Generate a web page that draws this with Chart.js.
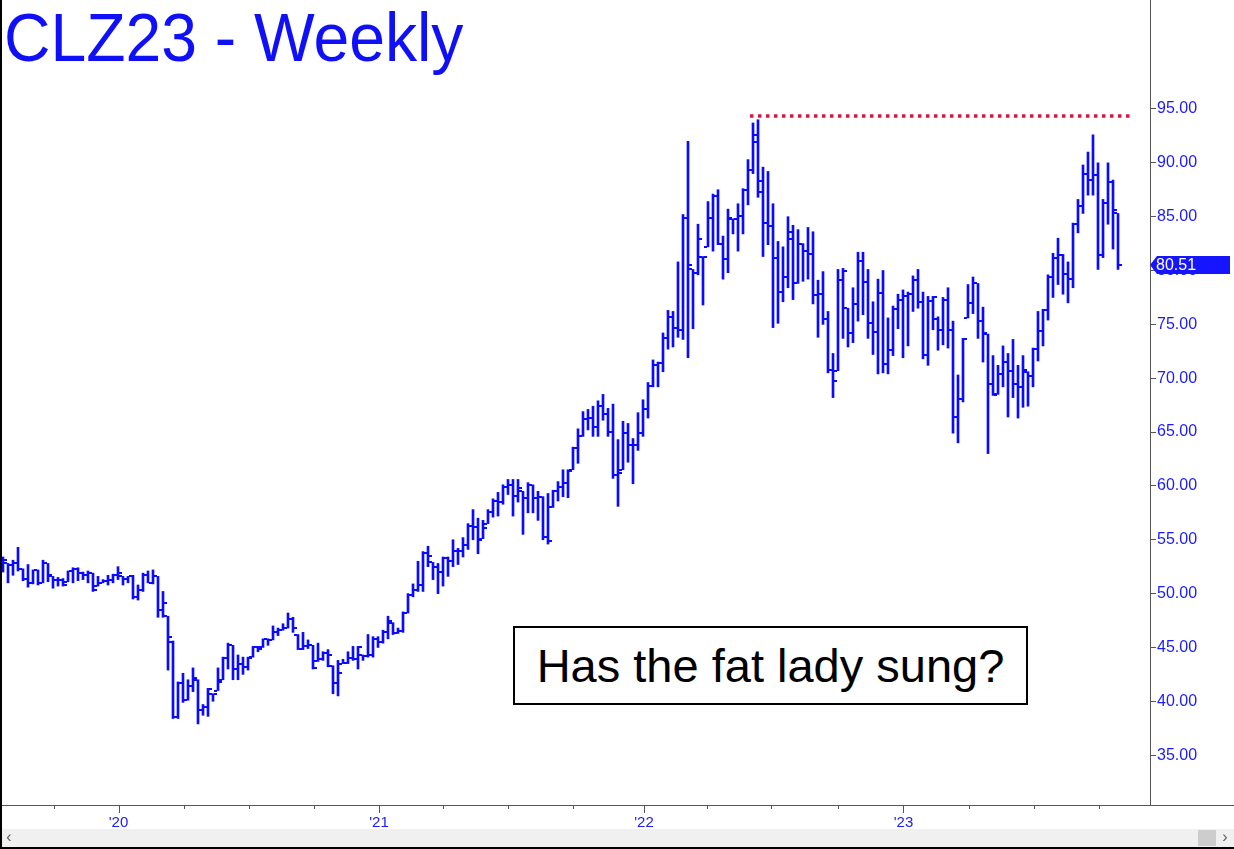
<!DOCTYPE html>
<html>
<head>
<meta charset="utf-8">
<title>CLZ23 - Weekly</title>
<script src="https://cdn.jsdelivr.net/npm/chart.js@4.4.0/dist/chart.umd.min.js"></script>
<style>
  html, body { margin: 0; padding: 0; background: #fff; }
  #wrap { position: relative; width: 1234px; height: 849px; overflow: hidden; }
  #chart { position: absolute; left: 0; top: 0; }
  #title {
    position: absolute; left: 4px; top: 3px;
    font-family: 'Liberation Sans', Arial, sans-serif; font-size: 68px; line-height: 68px;
    color: #1010f8; white-space: nowrap;
    transform: scaleX(0.945); transform-origin: 0 0;
  }
  #note {
    position: absolute; left: 513px; top: 626px; width: 511px; height: 75px;
    border: 2px solid #000; background: #fff;
    font-family: 'Liberation Sans', Arial, sans-serif; font-size: 47px; line-height: 75px;
    text-align: center; color: #000; white-space: nowrap;
  }
</style>
</head>
<body>
<div id="wrap">
  <canvas id="chart" width="1234" height="849"></canvas>
  <div id="title">CLZ23 - Weekly</div>
  <div id="note">Has the fat lady sung?</div>
</div>
<script>
// weekly bars, mid-2019 .. Oct 2023 (index = week number)
var opens = [
  52.5, 52.8, 52.7, 52.8, 52.3, 51.4, 51.0, 52.2, 51.0, 52.8,
  51.6, 51.3, 51.3, 51.1, 52.1, 52.3, 51.9, 51.7, 51.9, 50.7,
  51.0, 51.2, 51.3, 51.7, 51.6, 51.4, 51.6, 49.7, 50.3, 51.7,
  51.0, 51.6, 48.5, 47.9, 45.5, 38.5, 41.7, 40.1, 41.4, 42.0,
  39.2, 39.5, 40.7, 41.0, 42.0, 44.0, 45.2, 43.0, 43.5, 43.2,
  44.1, 45.0, 45.0, 45.8, 45.7, 46.4, 46.6, 46.8, 47.6, 46.2,
  44.9, 45.1, 45.2, 43.7, 43.9, 44.5, 43.3, 41.7, 43.5, 43.6,
  44.0, 43.9, 44.3, 44.2, 44.3, 45.8, 45.5, 46.4, 47.3, 46.3,
  46.5, 48.2, 49.9, 50.3, 50.8, 53.8, 52.9, 52.5, 52.0, 53.3,
  53.0, 54.0, 54.0, 54.5, 56.3, 56.2, 55.1, 56.5, 57.6, 58.6,
  58.5, 59.9, 60.1, 59.1, 59.5, 58.9, 60.1, 58.9, 59.0, 55.3,
  58.0, 59.5, 59.9, 60.3, 61.5, 63.5, 64.6, 66.2, 66.3, 65.5,
  67.4, 66.7, 65.0, 61.0, 61.5, 64.9, 63.8, 63.8, 64.9, 67.1,
  69.3, 71.2, 71.4, 73.7, 75.7, 74.7, 74.5, 84.9, 80.1, 79.8,
  81.3, 82.2, 84.9, 86.9, 82.5, 81.1, 84.8, 84.8, 85.1, 87.5,
  89.3, 91.9, 88.3, 84.4, 84.1, 81.2, 78.0, 79.4, 82.9, 78.8,
  82.5, 81.8, 81.5, 77.7, 77.8, 75.5, 70.8, 70.7, 79.1, 76.5,
  74.2, 76.9, 80.9, 78.9, 75.1, 74.3, 77.9, 71.3, 72.6, 76.4,
  77.3, 77.6, 77.8, 79.1, 77.1, 72.2, 77.2, 75.5, 74.5, 77.3,
  74.5, 66.4, 68.1, 75.6, 77.0, 78.8, 75.3, 74.1, 69.5, 68.5,
  70.4, 71.5, 70.7, 69.5, 69.2, 70.6, 70.2, 72.7, 74.4, 76.3,
  79.4, 81.2, 81.4, 79.7, 79.2, 84.3, 86.0, 89.0, 88.4, 88.9,
  81.4, 86.3, 88.2, 85.3
];
var highs = [
  53.4, 52.8, 53.1, 54.3, 52.3, 52.7, 52.2, 52.2, 53.1, 52.8,
  51.6, 51.5, 51.4, 52.1, 52.4, 52.4, 52.0, 52.1, 51.9, 51.6,
  51.3, 51.7, 51.8, 52.5, 51.6, 51.6, 51.7, 50.8, 51.9, 52.1,
  52.2, 51.6, 50.2, 47.9, 45.6, 41.8, 42.6, 42.0, 43.1, 42.0,
  39.7, 41.2, 40.7, 43.1, 44.1, 45.4, 45.2, 44.3, 44.1, 44.1,
  45.1, 45.1, 45.8, 45.8, 47.0, 46.8, 47.2, 48.2, 47.8, 46.2,
  46.4, 45.7, 45.2, 45.4, 44.6, 44.8, 43.3, 43.8, 43.9, 44.6,
  45.1, 45.1, 44.3, 46.2, 46.0, 46.0, 46.6, 47.9, 47.3, 46.8,
  48.3, 50.0, 50.9, 53.0, 53.9, 54.4, 52.9, 52.8, 53.4, 53.4,
  55.0, 54.2, 55.2, 56.5, 57.8, 57.0, 56.8, 57.8, 58.8, 59.4,
  60.1, 60.6, 60.6, 60.6, 59.5, 60.3, 60.1, 59.5, 59.0, 59.3,
  59.6, 60.4, 61.5, 61.5, 63.6, 65.3, 66.9, 67.1, 67.4, 67.9,
  68.5, 67.2, 67.6, 64.3, 66.0, 65.8, 64.4, 66.8, 68.0, 69.6,
  71.7, 71.5, 74.2, 76.3, 76.2, 80.8, 85.2, 92.0, 80.1, 84.3,
  81.3, 86.4, 87.1, 87.5, 83.2, 85.7, 84.8, 86.2, 87.6, 90.3,
  93.7, 94.0, 89.6, 89.2, 86.2, 82.7, 82.2, 85.0, 84.2, 83.8,
  82.5, 84.0, 83.6, 79.1, 79.9, 76.2, 72.3, 80.1, 80.2, 76.5,
  78.4, 81.7, 81.7, 80.1, 77.1, 79.2, 80.0, 75.6, 76.7, 77.8,
  78.2, 78.0, 79.5, 80.1, 78.0, 77.6, 77.6, 75.7, 77.5, 78.4,
  75.3, 70.3, 73.7, 78.7, 79.4, 78.8, 76.6, 74.1, 72.1, 71.2,
  73.0, 72.3, 73.6, 71.2, 72.1, 70.6, 72.8, 76.2, 76.4, 79.6,
  81.6, 83.0, 81.5, 80.8, 84.4, 86.6, 89.8, 91.0, 92.6, 90.0,
  86.6, 90.0, 88.4, 85.3
];
var lows = [
  52.0, 51.0, 51.7, 52.1, 51.2, 50.6, 50.9, 50.8, 51.0, 51.1,
  50.5, 50.7, 50.7, 51.1, 51.0, 51.2, 51.3, 51.0, 50.2, 50.7,
  51.0, 50.8, 51.0, 51.3, 50.8, 51.0, 49.5, 49.4, 50.2, 51.0,
  50.9, 47.8, 47.8, 42.9, 38.4, 38.4, 39.9, 40.1, 40.9, 37.9,
  38.7, 38.6, 40.0, 41.0, 42.0, 43.0, 42.0, 42.0, 42.5, 42.9,
  44.1, 44.6, 45.0, 45.2, 45.7, 46.1, 46.6, 46.8, 46.4, 44.8,
  44.8, 44.9, 43.0, 43.7, 43.8, 43.2, 40.7, 40.5, 43.5, 43.5,
  43.8, 43.0, 43.8, 44.1, 44.1, 45.0, 45.4, 45.8, 46.2, 46.3,
  46.4, 48.2, 49.7, 50.2, 50.2, 52.5, 51.3, 50.0, 50.7, 51.6,
  52.5, 52.7, 53.4, 54.1, 55.0, 53.7, 55.1, 56.5, 57.1, 57.2,
  58.3, 59.2, 57.2, 58.5, 55.5, 57.5, 57.5, 56.8, 55.0, 54.6,
  58.0, 58.6, 59.0, 58.9, 61.5, 62.1, 64.6, 65.2, 64.6, 64.6,
  66.1, 64.6, 60.7, 58.1, 61.5, 62.2, 60.2, 63.3, 64.6, 66.3,
  69.2, 69.2, 70.6, 72.7, 72.9, 73.8, 73.6, 71.9, 74.6, 79.6,
  76.8, 82.2, 81.8, 82.4, 79.2, 79.8, 83.4, 81.8, 83.4, 86.1,
  89.0, 86.8, 81.3, 82.4, 74.7, 75.1, 77.1, 78.4, 77.3, 78.8,
  79.0, 79.2, 76.9, 73.8, 75.0, 70.5, 68.2, 70.7, 73.7, 72.9,
  73.3, 75.3, 75.9, 73.7, 72.2, 70.4, 70.5, 70.4, 72.1, 74.6,
  71.9, 73.0, 76.2, 76.5, 71.8, 71.2, 74.5, 72.6, 73.1, 72.8,
  64.9, 64.0, 67.8, 75.6, 76.0, 73.7, 71.5, 63.0, 68.4, 68.5,
  69.2, 66.4, 68.2, 66.3, 67.3, 67.4, 69.2, 71.6, 73.0, 75.4,
  77.5, 78.7, 77.8, 77.0, 78.4, 83.5, 85.3, 87.0, 87.0, 80.1,
  81.2, 84.3, 82.0, 80.1
];
var closes = [
  53.1, 52.7, 52.8, 52.3, 51.4, 51.0, 52.2, 51.0, 52.8, 51.7,
  51.3, 51.3, 50.8, 52.1, 52.3, 51.9, 51.7, 51.9, 50.3, 51.0,
  51.2, 51.3, 51.7, 51.9, 51.4, 51.6, 49.7, 50.3, 51.7, 51.0,
  51.6, 48.5, 49.1, 46.0, 38.5, 41.7, 40.1, 41.4, 42.2, 39.2,
  39.5, 41.1, 40.7, 41.8, 44.0, 45.2, 43.0, 43.5, 43.2, 44.0,
  45.0, 44.9, 45.8, 45.7, 46.4, 46.6, 46.8, 47.6, 46.8, 44.9,
  45.1, 45.2, 43.1, 43.9, 44.5, 44.3, 41.7, 42.6, 43.6, 44.0,
  43.9, 45.0, 44.2, 44.3, 45.8, 45.5, 46.4, 47.5, 46.3, 46.5,
  48.2, 49.9, 50.3, 50.8, 53.8, 53.5, 52.5, 52.0, 53.3, 53.0,
  54.0, 54.0, 54.5, 56.3, 56.2, 55.0, 56.1, 57.6, 58.6, 58.5,
  59.9, 60.1, 59.1, 59.8, 58.9, 60.1, 58.9, 59.0, 55.3, 54.9,
  59.5, 59.9, 60.3, 61.4, 63.5, 64.6, 66.2, 66.3, 65.5, 67.4,
  66.7, 65.0, 61.0, 61.2, 64.9, 63.8, 63.8, 64.9, 67.1, 69.3,
  71.2, 71.4, 73.7, 75.7, 74.7, 74.5, 84.9, 80.5, 79.8, 82.9,
  81.3, 84.9, 86.9, 82.5, 81.1, 84.9, 84.8, 85.1, 87.5, 89.3,
  92.6, 87.3, 84.4, 84.1, 81.2, 78.0, 79.4, 83.6, 78.8, 82.5,
  81.8, 81.5, 77.7, 77.8, 75.5, 70.8, 69.7, 79.1, 80.0, 74.2,
  76.9, 80.9, 78.9, 75.1, 74.3, 77.9, 71.3, 72.6, 76.4, 77.3,
  77.6, 77.8, 79.1, 77.1, 72.2, 77.2, 77.5, 74.5, 77.3, 74.5,
  66.4, 68.1, 73.6, 77.0, 78.8, 75.3, 74.2, 69.5, 68.4, 70.4,
  71.5, 70.7, 69.5, 69.2, 70.8, 70.2, 72.7, 74.4, 76.3, 79.4,
  81.2, 81.4, 79.7, 79.2, 84.3, 86.0, 89.0, 88.4, 88.9, 81.4,
  86.3, 88.2, 85.6, 80.51
];

// x axis: quarter tick positions (in weeks), year labels
var xTickPos = [10.2, 23.1, 36.1, 49.2, 62.1, 75.2, 88.1, 101.1, 114.1, 128.2, 140.8, 153.6, 167.1, 180.1, 193.1, 206.1, 219.2];
var yearTickPos = [23.1, 75.2, 128.2, 180.1];
var yearLabels = ["'20", "'21", "'22", "'23"];
var yTicks = [35, 40, 45, 50, 55, 60, 65, 70, 75, 80, 85, 90, 95];

// resistance line (old high) drawn dotted
var levelPrice = 94.35;
var levelFrom = 149.4;
var levelTo = 225.4;

var barColor = '#0a0aff';
var axisBlue = '#1a1aff';
var axisGrey = '#555555';
var fontName = "'Liberation Sans', Arial, sans-serif";

var barData = [];
for (var i = 0; i < highs.length; i++) {
  barData.push({ x: i, y: [lows[i], highs[i]] });
}

// open tick left, close tick right
var ohlcTicks = {
  id: 'ohlcTicks',
  afterDatasetsDraw: function(chart) {
    var ctx = chart.ctx;
    var xs = chart.scales.x;
    var ys = chart.scales.y;
    ctx.save();
    ctx.fillStyle = barColor;
    for (var i = 0; i < closes.length; i++) {
      var px = Math.round(xs.getPixelForValue(i));
      ctx.fillRect(px - 4, Math.round(ys.getPixelForValue(opens[i])) - 1, 3, 2);
      ctx.fillRect(px + 1, Math.round(ys.getPixelForValue(closes[i])) - 1, 3, 2);
    }
    ctx.restore();
  }
};

var decor = {
  id: 'decor',
  afterDraw: function(chart) {
    var ctx = chart.ctx;
    var xs = chart.scales.x;
    var ys = chart.scales.y;
    var area = chart.chartArea;
    ctx.save();

    // bottom axis line across the whole width
    ctx.fillStyle = axisGrey;
    ctx.fillRect(0, area.bottom, chart.width, 1);

    // x ticks, years longer
    for (var i = 0; i < xTickPos.length; i++) {
      var px = Math.round(xs.getPixelForValue(xTickPos[i]));
      var len = yearTickPos.indexOf(xTickPos[i]) >= 0 ? 7 : 3;
      ctx.fillRect(px, area.bottom + 1, 1, len);
    }

    // last price flag
    var last = closes[closes.length - 1];
    var py = Math.round(ys.getPixelForValue(last));
    var x0 = area.right;
    ctx.fillStyle = '#1515ff';
    ctx.beginPath();
    ctx.moveTo(x0, py);
    ctx.lineTo(x0 + 7, py - 9);
    ctx.lineTo(x0 + 80, py - 9);
    ctx.lineTo(x0 + 80, py + 9);
    ctx.lineTo(x0 + 7, py + 9);
    ctx.closePath();
    ctx.fill();
    ctx.fillStyle = '#ffffff';
    ctx.font = '16px ' + fontName;
    ctx.textBaseline = 'middle';
    ctx.textAlign = 'left';
    ctx.fillText(last.toFixed(2), x0 + 6, py + 1);

    // scroll bar at the bottom
    ctx.fillStyle = '#f0f0f0';
    ctx.fillRect(0, 829, chart.width, 18);
    ctx.fillStyle = '#cdcdcd';
    ctx.fillRect(1198, 830, 18, 16);
    ctx.fillStyle = '#606060';
    ctx.font = '16px ' + fontName;
    ctx.textAlign = 'center';
    ctx.fillText('\u2039', 9, 838);
    ctx.fillText('\u203A', 1225, 838);

    // window frame
    ctx.fillStyle = '#000000';
    ctx.fillRect(0, 0, 2, chart.height);
    ctx.fillRect(0, chart.height - 2, chart.width, 2);
    ctx.restore();
  }
};

var ctx = document.getElementById('chart').getContext('2d');
var clChart = new Chart(ctx, {
  type: 'bar',
  data: {
    datasets: [{
      type: 'bar',
      data: barData,
      backgroundColor: barColor,
      borderWidth: 0,
      barThickness: 2,
      grouped: false
    }, {
      type: 'line',
      data: [{ x: levelFrom, y: levelPrice }, { x: levelTo, y: levelPrice }],
      borderColor: '#dc1443',
      borderWidth: 3.5,
      borderDash: [3.5, 4.5],
      borderCapStyle: 'butt',
      pointRadius: 0,
      fill: false
    }]
  },
  options: {
    responsive: false,
    devicePixelRatio: 1,
    animation: false,
    events: [],
    layout: { padding: 0 },
    plugins: {
      legend: { display: false },
      tooltip: { enabled: false }
    },
    scales: {
      x: {
        type: 'linear',
        min: -0.6,
        max: 229.4,
        offset: false,
        bounds: 'data',
        afterBuildTicks: function(scale) {
          scale.ticks = xTickPos.map(function(v) { return { value: v }; });
        },
        afterFit: function(scale) {
          scale.height = 44;
          scale.paddingLeft = 0;
          scale.paddingRight = 0;
        },
        ticks: {
          autoSkip: false,
          maxRotation: 0,
          padding: 9,
          color: axisBlue,
          font: { family: fontName, size: 15 },
          callback: function(v) {
            var k = yearTickPos.indexOf(v);
            return k >= 0 ? yearLabels[k] : '';
          }
        },
        grid: { display: false, drawTicks: false },
        border: { display: false }
      },
      y: {
        type: 'linear',
        position: 'right',
        min: 30.37,
        max: 105.12,
        bounds: 'data',
        afterBuildTicks: function(scale) {
          scale.ticks = yTicks.map(function(v) { return { value: v }; });
        },
        afterFit: function(scale) {
          scale.width = 84;
          scale.paddingTop = 0;
          scale.paddingBottom = 0;
        },
        ticks: {
          padding: 1,
          color: axisBlue,
          font: { family: fontName, size: 16 },
          callback: function(v) { return v.toFixed(2); }
        },
        grid: { drawOnChartArea: false, drawTicks: true, tickLength: 6, color: axisGrey },
        border: { display: true, color: axisGrey, width: 1 }
      }
    }
  },
  plugins: [ohlcTicks, decor]
});
</script>
</body>
</html>
